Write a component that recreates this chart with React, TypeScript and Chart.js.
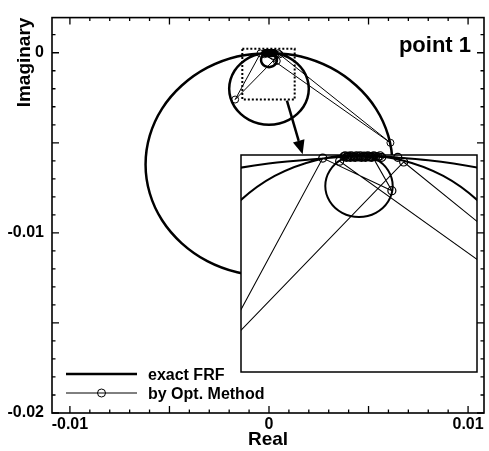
import React, { useEffect, useRef } from "react";
import { Chart, registerables } from "chart.js";

Chart.register(...registerables);

// ---------- data ----------
// exact FRF: large modal loop, medium loop, small loop (all touching the origin)
const FRF_RE = [
  0, -0.0016, -0.0031, -0.00438, -0.00537, -0.00599, -0.0062, -0.00599, -0.00537, -0.00438, -0.0031, -0.0016, 0,
  0.0016, 0.0031, 0.00438, 0.00537, 0.00599, 0.0062, 0.00599, 0.00537, 0.00438, 0.0031, 0.0016, 0,
  -0.00052, -0.001, -0.00141, -0.00173, -0.00193, -0.002, -0.00193, -0.00173, -0.00141, -0.001, -0.00052, 0,
  0.00052, 0.001, 0.00141, 0.00173, 0.00193, 0.002, 0.00193, 0.00173, 0.00141, 0.001, 0.00052, 0,
  -0.0002, -0.000346, -0.0004, -0.000346, -0.0002, 0, 0.0002, 0.000346, 0.0004, 0.000346, 0.0002, 0,
];
const FRF_IM = [
  0, -0.00021, -0.00083, -0.00182, -0.0031, -0.0046, -0.0062, -0.0078, -0.0093, -0.01058, -0.01157, -0.01219, -0.0124,
  -0.01219, -0.01157, -0.01058, -0.0093, -0.0078, -0.0062, -0.0046, -0.0031, -0.00182, -0.00083, -0.00021, 0,
  -0.00007, -0.00027, -0.00059, -0.001, -0.00148, -0.002, -0.00252, -0.003, -0.00341, -0.00373, -0.00393, -0.004,
  -0.00393, -0.00373, -0.00341, -0.003, -0.00252, -0.002, -0.00148, -0.001, -0.00059, -0.00027, -0.00007, 0,
  -0.000054, -0.0002, -0.0004, -0.0006, -0.000746, -0.0008, -0.000746, -0.0006, -0.0004, -0.0002, -0.000054, 0,
];
// by Opt. Method: estimated points in iteration order (dense cluster near the origin)
const OPT_RE = [
  0.00046, 0.00027, 0.00016, 0.00039, -0.00043, -0.0017, 0.00053, 0.0061, -0.00023,
  -0.00018, -0.000165, -0.00015, -0.000135, -0.00012, -0.000105, -0.00009, -0.000075, -0.00006,
  -0.000045, -0.00003, -0.000015, 0, 0.000015, 0.00003, 0.000045, 0.00006, 0.000075, 0.00009,
  0.000105, 0.00012, 0.000135, 0.00015, 0.000175, 0.0002, 0.000225, 0.00025,
];
const OPT_IM = [
  -0.00003, -0.00003, -0.00002, -0.00046, -0.00004, -0.0026, -0.00009, -0.005, -0.00008,
  -0.00002, -0.00001, -0.00003, -0.00002, -0.000015, -0.00003, -0.00001, -0.000025, -0.00002,
  -0.00003, -0.00001, -0.00002, -0.000025, -0.00001, -0.00003, -0.00002, -0.000015, -0.00003, -0.00002,
  -0.00001, -0.000025, -0.00002, -0.00003, -0.00001, -0.00002, -0.000025, -0.00001,
];

const SERIES = ["exact FRF", "by Opt. Method"];
const TITLE = "point 1";
const X_TITLE = "Real";
const Y_TITLE = "Imaginary";
const X_TICK_LABELS = [-0.01, 0, 0.01];
const Y_TICK_LABELS = [0, -0.01, -0.02];
const X_RANGE = [-0.0109, 0.0108];
const Y_RANGE = [-0.02, 0.00195];
// zoomed inset range
const ZOOM_RE = [-0.0014, 0.0014];
const ZOOM_IM = [-0.0028, 0];
// dotted marker box in the main plot, and the arrow to the inset
const ZOOM_BOX_RE = [-0.00134, 0.00129];
const ZOOM_BOX_IM = [-0.0026, 0.00022];
const ARROW_RE = [0.0009, 0.00169];
const ARROW_IM = [-0.00266, -0.00564];

// ---------- styling ----------
const FONT = "'Liberation Sans', Arial, Helvetica, sans-serif";
const BLACK = "#000";

const pts = (xs: number[], ys: number[]) => xs.map((x, i) => ({ x, y: ys[i] }));
const fmt = (v: number) => (v === 0 ? "0" : String(v));

const mainDecor = {
  id: "mainDecor",
  afterDatasetsDraw(chart: any) {
    const { ctx, chartArea: a, scales } = chart;
    const xs = scales.x;
    const ys = scales.y;
    ctx.save();
    ctx.strokeStyle = BLACK;
    ctx.fillStyle = BLACK;

    // dotted zoom box
    ctx.lineWidth = 2;
    ctx.setLineDash([2, 2]);
    const bx0 = xs.getPixelForValue(ZOOM_BOX_RE[0]);
    const bx1 = xs.getPixelForValue(ZOOM_BOX_RE[1]);
    const by0 = ys.getPixelForValue(ZOOM_BOX_IM[1]);
    const by1 = ys.getPixelForValue(ZOOM_BOX_IM[0]);
    ctx.strokeRect(bx0, by0, bx1 - bx0, by1 - by0);
    ctx.setLineDash([]);

    // arrow
    const x0 = xs.getPixelForValue(ARROW_RE[0]);
    const y0 = ys.getPixelForValue(ARROW_IM[0]);
    const x1 = xs.getPixelForValue(ARROW_RE[1]);
    const y1 = ys.getPixelForValue(ARROW_IM[1]);
    const ang = Math.atan2(y1 - y0, x1 - x0);
    const head = 14;
    const hw = 6;
    const hx = x1 - head * Math.cos(ang);
    const hy = y1 - head * Math.sin(ang);
    ctx.lineWidth = 2.5;
    ctx.beginPath();
    ctx.moveTo(x0, y0);
    ctx.lineTo(hx, hy);
    ctx.stroke();
    ctx.beginPath();
    ctx.moveTo(x1, y1);
    ctx.lineTo(hx + hw * Math.sin(ang), hy - hw * Math.cos(ang));
    ctx.lineTo(hx - hw * Math.sin(ang), hy + hw * Math.cos(ang));
    ctx.closePath();
    ctx.fill();

    // frame
    ctx.lineWidth = 1.6;
    ctx.strokeRect(a.left, a.top, a.right - a.left, a.bottom - a.top);

    // inward ticks on all four sides (major every 0.005, minor every 0.001)
    ctx.lineWidth = 1.3;
    ctx.beginPath();
    for (let k = -10; k <= 10; k++) {
      const px = xs.getPixelForValue(k / 1000);
      if (px < a.left || px > a.right) continue;
      const len = k % 5 === 0 ? 7 : 3.5;
      ctx.moveTo(px, a.bottom);
      ctx.lineTo(px, a.bottom - len);
      ctx.moveTo(px, a.top);
      ctx.lineTo(px, a.top + len);
    }
    for (let k = -20; k <= 1; k++) {
      const py = ys.getPixelForValue(k / 1000);
      if (py < a.top || py > a.bottom) continue;
      const len = k % 5 === 0 ? 7 : 3.5;
      ctx.moveTo(a.left, py);
      ctx.lineTo(a.left + len, py);
      ctx.moveTo(a.right, py);
      ctx.lineTo(a.right - len, py);
    }
    ctx.stroke();

    // title
    ctx.font = `bold 22px ${FONT}`;
    ctx.textAlign = "right";
    ctx.textBaseline = "alphabetic";
    ctx.fillText(TITLE, a.right - 13, a.top + 34.5);

    // legend
    const lx0 = a.left + 14;
    const lx1 = a.left + 85;
    const ry1 = a.bottom - 39;
    const ry2 = a.bottom - 20;
    ctx.font = `bold 16px ${FONT}`;
    ctx.textAlign = "left";
    ctx.lineWidth = 2.5;
    ctx.beginPath();
    ctx.moveTo(lx0, ry1);
    ctx.lineTo(lx1, ry1);
    ctx.stroke();
    ctx.fillText(SERIES[0], a.left + 96, ry1 + 5.5);
    ctx.lineWidth = 1;
    ctx.beginPath();
    ctx.moveTo(lx0, ry2);
    ctx.lineTo(lx1, ry2);
    ctx.stroke();
    ctx.beginPath();
    ctx.arc((lx0 + lx1) / 2, ry2, 4, 0, Math.PI * 2);
    ctx.stroke();
    ctx.fillText(SERIES[1], a.left + 96, ry2 + 5.5);

    ctx.restore();
  },
};

const insetFrame = {
  id: "insetFrame",
  beforeDatasetsDraw(chart: any) {
    const { ctx, chartArea: a } = chart;
    ctx.save();
    ctx.fillStyle = "#fff";
    ctx.fillRect(a.left, a.top, a.right - a.left, a.bottom - a.top);
    ctx.restore();
  },
  afterDatasetsDraw(chart: any) {
    const { ctx, chartArea: a } = chart;
    ctx.save();
    ctx.strokeStyle = BLACK;
    ctx.lineWidth = 1.5;
    ctx.strokeRect(a.left, a.top, a.right - a.left, a.bottom - a.top);
    ctx.restore();
  },
};

export default function App() {
  const mainRef = useRef<HTMLCanvasElement>(null);
  const insetRef = useRef<HTMLCanvasElement>(null);

  useEffect(() => {
    Chart.defaults.font.family = FONT;
    const frf = pts(FRF_RE, FRF_IM);
    const opt = pts(OPT_RE, OPT_IM);

    const main = new Chart(mainRef.current as HTMLCanvasElement, {
      type: "scatter",
      data: {
        datasets: [
          {
            label: SERIES[0],
            data: frf,
            showLine: true,
            borderColor: BLACK,
            borderWidth: 2.5,
            pointRadius: 0,
            tension: 0.34,
          },
          {
            label: SERIES[1],
            data: opt,
            showLine: true,
            borderColor: BLACK,
            borderWidth: 1,
            pointRadius: 3.5,
            pointBorderWidth: 1,
            pointBorderColor: BLACK,
            pointBackgroundColor: "rgba(0,0,0,0)",
            tension: 0,
          },
        ],
      } as any,
      options: {
        responsive: false,
        animation: false,
        devicePixelRatio: 1,
        layout: { padding: { top: 8, right: 1, left: 0, bottom: 0 } },
        elements: { line: { capBezierPoints: false } },
        plugins: { legend: { display: false }, tooltip: { enabled: false } },
        scales: {
          x: {
            type: "linear",
            min: X_RANGE[0],
            max: X_RANGE[1],
            afterFit: (s: any) => {
              s.height = 38;
            },
            afterBuildTicks: (s: any) => {
              s.ticks = X_TICK_LABELS.map((v) => ({ value: v }));
            },
            grid: { display: false, drawTicks: false },
            border: { display: false },
            ticks: {
              color: BLACK,
              font: { family: FONT, size: 16, weight: "bold" },
              padding: 2,
              maxRotation: 0,
              autoSkip: false,
              callback: (v: any) => fmt(Number(v)),
            },
            title: {
              display: true,
              text: X_TITLE,
              color: BLACK,
              font: { family: FONT, size: 19, weight: "bold" },
              padding: { top: 0, bottom: 0 },
            },
          },
          y: {
            type: "linear",
            min: Y_RANGE[0],
            max: Y_RANGE[1],
            afterFit: (s: any) => {
              s.width = 52;
            },
            afterBuildTicks: (s: any) => {
              s.ticks = Y_TICK_LABELS.map((v) => ({ value: v }));
            },
            grid: { display: false, drawTicks: false },
            border: { display: false },
            ticks: {
              color: BLACK,
              font: { family: FONT, size: 16, weight: "bold" },
              padding: 8,
              autoSkip: false,
              callback: (v: any) => fmt(Number(v)),
            },
            title: {
              display: true,
              text: Y_TITLE,
              align: "end",
              color: BLACK,
              font: { family: FONT, size: 19, weight: "bold" },
              padding: { top: 13, bottom: 0 },
            },
          },
        },
      } as any,
      plugins: [mainDecor],
    });

    const inset = new Chart(insetRef.current as HTMLCanvasElement, {
      type: "scatter",
      data: {
        datasets: [
          {
            label: SERIES[0],
            data: frf,
            showLine: true,
            borderColor: BLACK,
            borderWidth: 2,
            pointRadius: 0,
            tension: 0.34,
          },
          {
            label: SERIES[1],
            data: opt,
            showLine: true,
            borderColor: BLACK,
            borderWidth: 1.1,
            pointRadius: 0,
            tension: 0,
          },
          {
            label: SERIES[1] + " markers",
            data: opt,
            showLine: false,
            pointRadius: 4,
            pointBorderWidth: 1.2,
            pointBorderColor: BLACK,
            pointBackgroundColor: "rgba(0,0,0,0)",
            clip: { left: 0, top: 6, right: 0, bottom: 0 },
          },
        ],
      } as any,
      options: {
        responsive: false,
        animation: false,
        devicePixelRatio: 1,
        layout: { padding: 6 },
        elements: { line: { capBezierPoints: false } },
        plugins: { legend: { display: false }, tooltip: { enabled: false } },
        scales: {
          x: { type: "linear", display: false, min: ZOOM_RE[0], max: ZOOM_RE[1] },
          y: { type: "linear", display: false, min: ZOOM_IM[0], max: ZOOM_IM[1] },
        },
      } as any,
      plugins: [insetFrame],
    });

    return () => {
      main.destroy();
      inset.destroy();
    };
  }, []);

  return (
    <div style={{ position: "absolute", left: 0, top: 0, width: 489, height: 451, background: "#fff" }}>
      <canvas
        ref={mainRef}
        width={489}
        height={451}
        style={{ position: "absolute", left: 0, top: 0, width: 489, height: 451 }}
      />
      <canvas
        ref={insetRef}
        width={248}
        height={229}
        style={{ position: "absolute", left: 235, top: 149, width: 248, height: 229 }}
      />
    </div>
  );
}
